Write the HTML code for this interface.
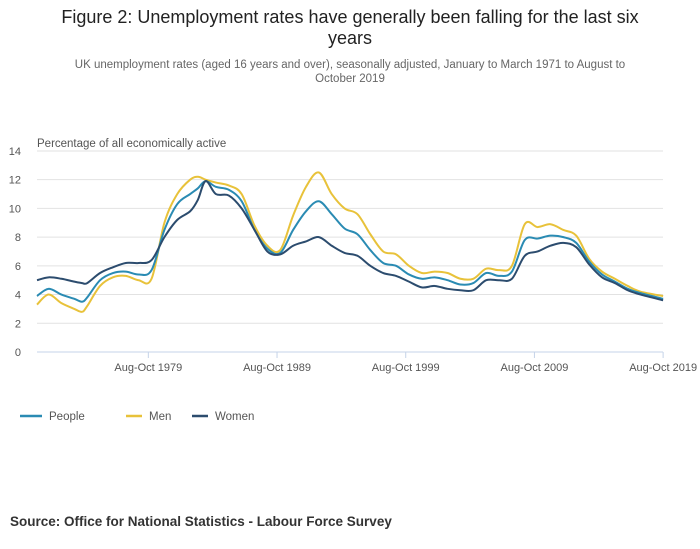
<!DOCTYPE html>
<html><head><meta charset="utf-8"><style>
body{margin:0;width:700px;height:549px;background:#fff;font-family:"Liberation Sans",sans-serif;position:relative;overflow:hidden}
.t{position:absolute;left:0;width:700px;text-align:center;color:#222}
</style></head><body>
<div class="t" style="top:7px;font-size:18px;line-height:21px">Figure 2: Unemployment rates have generally been falling for the last six<br>years</div>
<div class="t" style="top:58px;font-size:11.5px;line-height:14px;color:#666">UK unemployment rates (aged 16 years and over), seasonally adjusted, January to March 1971 to August to<br>October 2019</div>
<svg width="700" height="549" style="position:absolute;left:0;top:0" id="c">
<text x="37" y="147" font-size="11.5" fill="#555">Percentage of all economically active</text>
<g id="grid"></g><g id="lines"></g>
<g font-size="11.5" fill="#555">
<line x1="20" y1="416" x2="42" y2="416" stroke="#2a8bb3" stroke-width="2.5"/><text x="49" y="420">People</text>
<line x1="126" y1="416" x2="142" y2="416" stroke="#e8c23a" stroke-width="2.5"/><text x="149" y="420">Men</text>
<line x1="192" y1="416" x2="208" y2="416" stroke="#2c4c6e" stroke-width="2.5"/><text x="215" y="420">Women</text>
</g>
<text x="10" y="526" font-size="13.5" font-weight="bold" fill="#333">Source: Office for National Statistics - Labour Force Survey</text>
</svg>
<script>
const years=[1971.1,1972,1973,1974,1974.6,1975,1976,1977,1978,1979,1980,1981,1982,1983,1983.6,1984.2,1985,1986,1987,1988,1989,1990,1991,1992,1993,1994,1995,1996,1997,1998,1999,2000,2001,2002,2003,2004,2005,2006,2007,2008,2009,2010,2011,2012,2013,2014,2015,2016,2017,2018,2019.75];
const people=[3.9,4.4,4.0,3.7,3.5,3.8,5.0,5.5,5.6,5.4,5.7,8.5,10.3,11.0,11.4,11.9,11.5,11.3,10.5,8.5,7.2,6.9,8.5,9.8,10.5,9.6,8.6,8.2,7.1,6.2,6.0,5.4,5.1,5.2,5.0,4.7,4.8,5.5,5.3,5.6,7.8,7.9,8.1,8.0,7.6,6.3,5.4,4.9,4.4,4.1,3.7];
const men=[3.3,4.0,3.4,3.0,2.8,3.2,4.6,5.2,5.3,5.0,5.1,9.0,11.0,12.0,12.2,12.0,11.8,11.6,11.0,8.8,7.4,7.1,9.5,11.5,12.5,11.0,10.0,9.6,8.2,7.0,6.8,6.0,5.5,5.6,5.5,5.1,5.1,5.8,5.7,6.0,8.9,8.7,8.9,8.5,8.1,6.5,5.6,5.1,4.6,4.2,3.9];
const women=[5.0,5.2,5.1,4.9,4.8,4.8,5.5,5.9,6.2,6.2,6.4,8.0,9.2,9.8,10.6,11.9,11.0,10.9,10.0,8.5,7.0,6.8,7.4,7.7,8.0,7.4,6.9,6.7,6.0,5.5,5.3,4.9,4.5,4.6,4.4,4.3,4.3,5.0,5.0,5.1,6.7,7.0,7.4,7.6,7.3,6.1,5.2,4.8,4.3,4.0,3.6];
const yTicks=[0,2,4,6,8,10,12,14];
const xTicks=[1979.75,1989.75,1999.75,2009.75,2019.75];
const xLabels=["Aug-Oct 1979","Aug-Oct 1989","Aug-Oct 1999","Aug-Oct 2009","Aug-Oct 2019"];
const X=y=>37+(y-1971.1)*12.87, Y=v=>352-v*14.36;
const NS="http://www.w3.org/2000/svg";
const g=document.getElementById('grid'),L=document.getElementById('lines');
function mk(t,a,p){const e=document.createElementNS(NS,t);for(const k in a)e.setAttribute(k,a[k]);p.appendChild(e);return e;}
yTicks.forEach(v=>{
 const l=mk('line',{x1:37,x2:663,y1:Y(v),y2:Y(v),stroke:v?'#e2e2e2':'#c5d3e8','stroke-width':1},g);
 
 
 const t=mk('text',{x:21,y:Y(v)+4,'font-size':11,fill:'#555','text-anchor':'end'},g);t.textContent=v;
 
 
});
xTicks.forEach((v,i)=>{
 mk('line',{x1:X(v),x2:X(v),y1:352,y2:358,stroke:'#c5d3e8'},g);
 const t=mk('text',{x:X(v),y:371,'font-size':11,fill:'#555','text-anchor':'middle'},g);t.textContent=xLabels[i];
 
 
});
function path(vals){const p=years.map((y,i)=>[X(y),Y(vals[i])]);let d='M'+p[0];
 for(let i=0;i<p.length-1;i++){const a=p[i-1]||p[i],b=p[i],c=p[i+1],e=p[i+2]||c;
 d+=' C'+(b[0]+(c[0]-a[0])/6)+','+(b[1]+(c[1]-a[1])/6)+' '+(c[0]-(e[0]-b[0])/6)+','+(c[1]-(e[1]-b[1])/6)+' '+c;}return d;}
[[men,'#e8c23a','line-men'],[people,'#2a8bb3','line-people'],[women,'#2c4c6e','line-women']].forEach(([v,c,n])=>{
 const p=mk('path',{d:path(v),fill:'none',stroke:c,'stroke-width':2},L);
 
 
});
</script>
</body></html>
